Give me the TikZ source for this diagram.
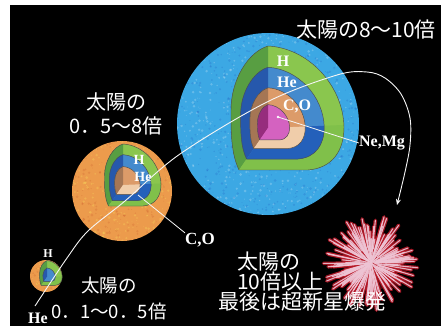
\documentclass[tikz,border=0pt]{standalone}
\usepackage{fontspec}
\usetikzlibrary{arrows.meta}
\newfontfamily\jpfont{Noto Sans CJK JP}
\newfontfamily\elfont{Liberation Serif}

\definecolor{skyball}{RGB}{60,168,228}
\definecolor{orangeball}{RGB}{236,155,76}
\definecolor{hL}{RGB}{88,158,66}
\definecolor{hR}{RGB}{138,198,78}
\definecolor{hB}{RGB}{128,192,74}
\definecolor{heL}{RGB}{38,88,172}
\definecolor{heR}{RGB}{68,138,205}
\definecolor{heB}{RGB}{36,96,186}
\definecolor{coL}{RGB}{165,118,84}
\definecolor{coR}{RGB}{220,155,105}
\definecolor{coB}{RGB}{240,205,170}
\definecolor{neL}{RGB}{150,45,125}
\definecolor{neR}{RGB}{212,98,192}
\definecolor{snred}{RGB}{185,25,40}
\definecolor{snwhite}{RGB}{238,196,212}

% outline of one onion shell, centred on the cut corner
\newcommand\shellpath{(0,-82) .. controls (-20,-76) and (-37,-48) .. (-37,-18)
  .. controls (-37,5) and (-37,25) .. (-29,42) -- (40,42)
  .. controls (65,40) and (76,22) .. (76,-1)
  .. controls (75,-43) and (40,-80) .. (0,-82) -- cycle}

% #1 scale, #2 left face, #3 right face, #4 bottom face
\newcommand\drawshell[4]{%
  \begin{scope}[scale=#1]
    \fill[#3] \shellpath;
    \begin{scope}
      \clip \shellpath;
      \fill[#2] (0,0) -- (0,-200) -- (-200,-200) -- (-200,290) -- cycle;
      \fill[#4] (0,0) -- (-200,290) -- (200,290) -- (200,-8) -- cycle;
    \end{scope}
    \draw[shellline] \shellpath;
  \end{scope}}

% mottled ball: #1 radius, #2 light speck, #3 dark speck, #4 seed, #5 count
\newcommand\mottle[5]{%
  \begin{scope}
    \clip (0,0) circle[radius=#1pt];
    \pgfmathsetseed{#4}
    \foreach \k in {1,...,#5}{%
      \pgfmathsetmacro\dx{(rnd*2-1)*#1}%
      \pgfmathsetmacro\dy{(rnd*2-1)*#1}%
      \pgfmathsetmacro\rr{0.4+rnd*1.1}%
      \fill[#2, opacity=0.22] (\dx,\dy) circle[radius=\rr pt];
      \pgfmathsetmacro\ex{(rnd*2-1)*#1}%
      \pgfmathsetmacro\ey{(rnd*2-1)*#1}%
      \fill[#3, opacity=0.10] (\ex,\ey) circle[radius=\rr pt];
    }
  \end{scope}}

\begin{document}
\begin{tikzpicture}[x=1pt,y=-1pt,
  shellline/.style={draw=black!70, line width=0.45pt},
  jptext/.style={text=white, inner sep=0pt, align=center},
  elem/.style={text=white, inner sep=0pt, font=\elfont\bfseries\fontsize{16}{16}\selectfont},
  leader/.style={draw=white!92!gray, line width=0.8pt},
  evo/.style={draw=white!92!gray, line width=0.9pt}]

\useasboundingbox (0,0) rectangle (442,326);
\fill[white] (0,0) rectangle (442,326);
\fill[black] (10,5) rectangle (441,326);

% ---------- massive star (8-10 solar masses) ----------
\coordinate (bigc) at (268,124);
\fill[skyball] (bigc) circle[radius=91pt];
\begin{scope}[shift={(bigc)}]
  \mottle{91}{white}{blue!60!black}{3}{600}
\end{scope}
\begin{scope}[shift={(268,128)}]
  \drawshell{1}{hL}{hR}{hB}
  \drawshell{0.74}{heL}{heR}{heB}
  \drawshell{0.49}{coL}{coR}{coB}
  \drawshell{0.285}{neL}{neR}{neR}
\end{scope}
\node[elem] (hBig)  at (283,61)  {H};
\node[elem] (heBig) at (287,82)  {He};
\node[elem] (coBig) at (297,106) {C,O};

% ---------- medium star (0.5-8 solar masses) ----------
\coordinate (midc) at (122,191);
\fill[orangeball] (midc) circle[radius=50pt];
\begin{scope}[shift={(midc)}]
  \mottle{50}{yellow!60!white}{red!60!black}{5}{250}
\end{scope}
\begin{scope}[shift={(123,185)}, scale=0.5]
  \drawshell{1}{hL}{hR}{hB}
  \drawshell{0.74}{heL}{heR}{heB}
  \drawshell{0.45}{coL}{coR}{coB}
\end{scope}
\node[elem, font=\elfont\bfseries\fontsize{14}{14}\selectfont] (hMid)  at (139,160) {H};
\node[elem, font=\elfont\bfseries\fontsize{14}{14}\selectfont] (heMid) at (143,177) {He};

% ---------- small star (0.1-0.5 solar masses) ----------
\coordinate (smc) at (46,276);
\fill[orangeball] (smc) circle[radius=16pt];
\begin{scope}[shift={(smc)}]
  \mottle{16}{yellow!60!white}{red!60!black}{9}{40}
\end{scope}
\begin{scope}[shift={(47,277)}, scale=0.2]
  \drawshell{1}{hL}{hR}{hB}
  \drawshell{0.55}{heL}{heR}{heR}
\end{scope}
\node[elem, font=\elfont\bfseries\fontsize{12}{12}\selectfont] (hSm) at (48,254) {H};
\node[elem] (heSm) at (38,318) {He};

% ---------- supernova ----------
\coordinate (sn) at (371,263);
\begin{scope}[shift={(sn)}]
  \fill[snred!60!black, opacity=0.7] (0,0) circle[radius=28pt];
  \pgfmathsetseed{11}
  \foreach \k in {1,...,170}{%
    \pgfmathsetmacro\ang{rnd*360}%
    \pgfmathsetmacro\ra{rnd*16}%
    \pgfmathsetmacro\rb{24+rnd*24}%
    \draw[snred, line width=3.6pt, line cap=round, opacity=0.85] (\ang:\ra pt) -- (\ang:\rb pt);
  }
  \pgfmathsetseed{11}
  \foreach \k in {1,...,170}{%
    \pgfmathsetmacro\ang{rnd*360}%
    \pgfmathsetmacro\ra{rnd*16}%
    \pgfmathsetmacro\rb{24+rnd*24}%
    \draw[snwhite, line width=1.1pt, line cap=round, opacity=0.9] (\ang:\ra pt) -- (\ang:\rb pt);
  }
\end{scope}

% ---------- element leaders ----------
\coordinate (neS) at (278,117);
\node[elem] (neMg) at (382,143) {Ne,Mg};
\fill[white] (neS) circle[radius=1.3pt];
\draw[leader] (neS) -- (neMg.west);

\coordinate (coS) at (138,195);
\node[elem, font=\elfont\bfseries\fontsize{17}{17}\selectfont] (coMid) at (200,240) {C,O};
\draw[leader] (coS) -- (coMid.north west);

% ---------- evolution track ----------
\coordinate (evoS) at (35,306);
\coordinate (evoE) at (397,205);
\draw[evo, -{Stealth[length=6pt,width=5pt]}] plot[smooth, tension=0.55] coordinates
  {(evoS) (67,258) (88,231) (125,201) (180,154) (267,102) (337,75)
   (367,72) (385,78) (401,94) (410,118) (410,145) (405,172) (evoE)};

% ---------- captions ----------
\node[jptext, font=\jpfont\fontsize{21}{21}\selectfont] (capBig) at (366,30) {太陽の8〜10倍};
\node[jptext, font=\jpfont\fontsize{20}{24}\selectfont] (capMid) at (116,114) {太陽の\\0．5〜8倍};
\node[jptext, font=\jpfont\fontsize{18.5}{26}\selectfont] (capSm) at (109,298) {太陽の\\0．1〜0．5倍};
\node[jptext, align=left, anchor=north west, font=\jpfont\fontsize{21}{20}\selectfont] (capSn) at (237,252) {太陽の\\10倍以上};
\node[jptext, font=\jpfont\fontsize{21}{21}\selectfont] (capSn2) at (302,302) {最後は超新星爆発};
\end{tikzpicture}
\end{document}
